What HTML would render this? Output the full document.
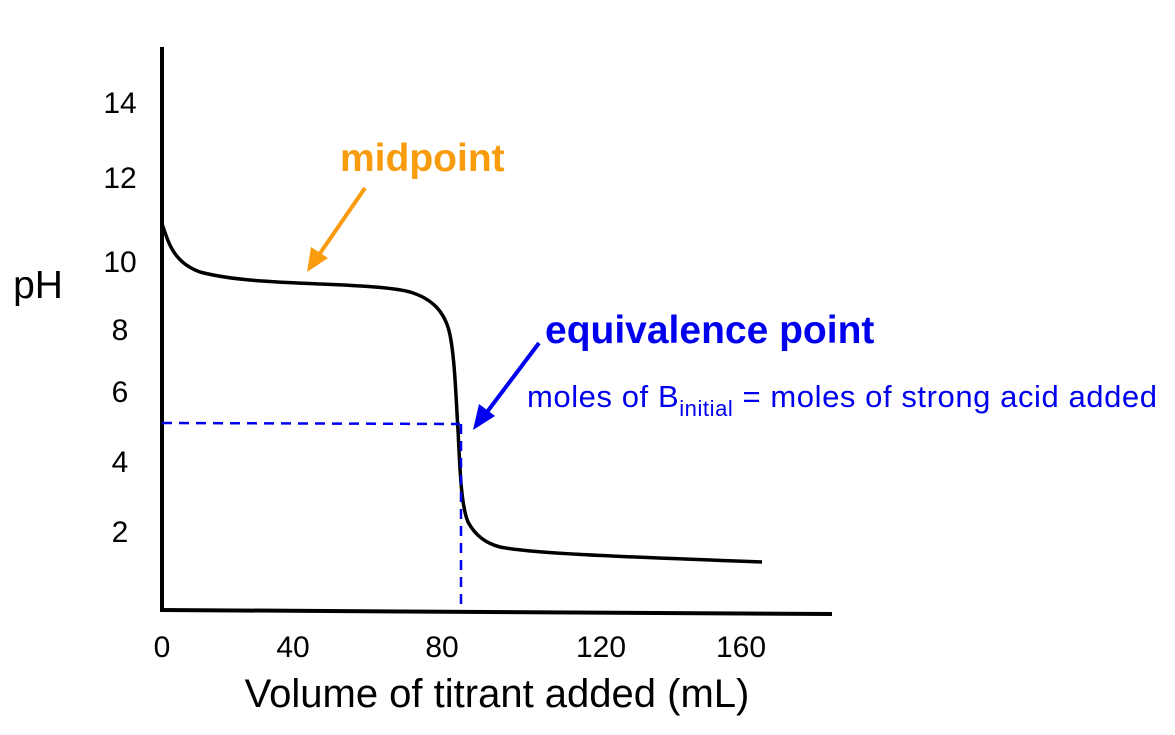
<!DOCTYPE html>
<html><head><style>body{margin:0;background:#fff}svg{display:block}</style></head><body>
<svg width="1175" height="735" viewBox="0 0 1175 735" xmlns="http://www.w3.org/2000/svg" font-family="Liberation Sans, Arial, sans-serif">
<line x1="162" y1="47" x2="162" y2="611" stroke="#000" stroke-width="4"/>
<line x1="160" y1="610" x2="832" y2="614" stroke="#000" stroke-width="4"/>
<path d="M162,224 C168,240 172,262 200,272 C230,280 270,282 320,284 C370,286 395,288 410,292 C430,298 445,310 450,335 C455,360 456,400 458,430 C460,470 461,505 468,522 C475,535 485,543 500,547 C530,553 600,556 762,562" fill="none" stroke="#000" stroke-width="3.5"/>
<line x1="162" y1="423" x2="460" y2="424" stroke="#0000ee" stroke-width="2.5" stroke-dasharray="10,7"/>
<line x1="461" y1="424" x2="461" y2="610" stroke="#0000ee" stroke-width="2.5" stroke-dasharray="10,7"/>
<line x1="365" y1="188" x2="314" y2="262" stroke="#f89c0e" stroke-width="4"/>
<polygon points="307,272 311,247 328,258" fill="#f89c0e"/>
<line x1="539" y1="343" x2="481" y2="420" stroke="#0000ee" stroke-width="4"/>
<polygon points="473,430 479,404 495,416" fill="#0000ee"/>
<g font-size="30" text-anchor="middle" fill="#000">
<text x="120" y="113">14</text><text x="120" y="188">12</text><text x="120" y="272">10</text>
<text x="120" y="340">8</text><text x="120" y="402">6</text><text x="120" y="472">4</text><text x="120" y="542">2</text>
<text x="162" y="657">0</text><text x="293" y="657">40</text><text x="442" y="657">80</text><text x="601" y="657">120</text><text x="741" y="657">160</text>
</g>
<text x="38" y="298" font-size="39" text-anchor="middle">pH</text>
<text x="497" y="707" font-size="40" text-anchor="middle">Volume of titrant added (mL)</text>
<text x="340" y="171" font-size="39" font-weight="bold" fill="#f89c0e">midpoint</text>
<text x="545" y="343" font-size="39" font-weight="bold" fill="#0000ee">equivalence point</text>
<text x="527" y="407" font-size="31" fill="#0000ee" textLength="630" lengthAdjust="spacing">moles of B<tspan font-size="22" dy="9">initial</tspan><tspan dy="-9">  = moles of strong acid added</tspan></text>
</svg>
</body></html>
